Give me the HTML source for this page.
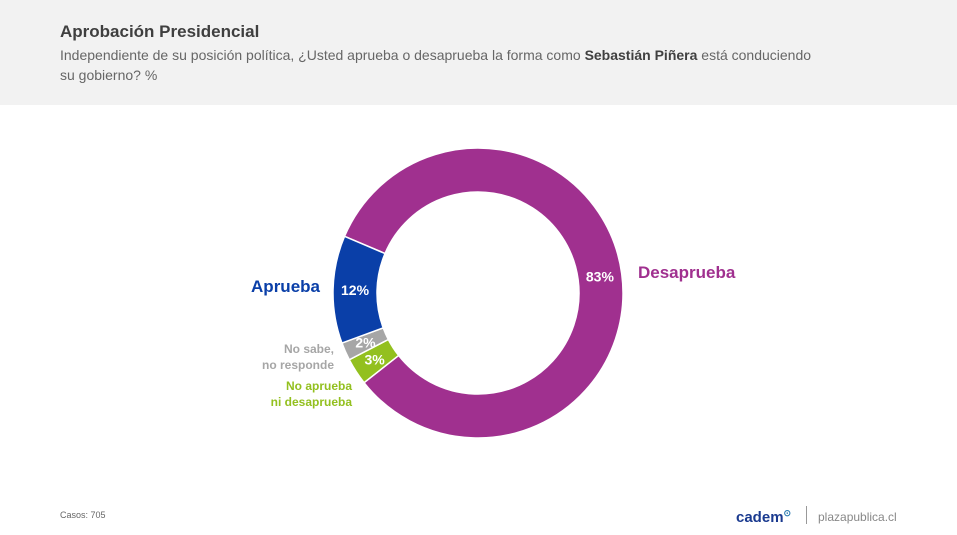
<!DOCTYPE html>
<html><head><meta charset="utf-8"><style>
body{margin:0;width:957px;height:535px;background:#fff;font-family:"Liberation Sans",sans-serif;overflow:hidden;position:relative}
.hdr{position:absolute;left:0;top:0;width:957px;height:105px;background:#f2f2f2}
.t{position:absolute;left:60px;top:22px;font-size:17px;font-weight:bold;color:#3f3f3f}
.s{position:absolute;left:60px;top:45px;width:768px;font-size:14px;line-height:20px;color:#666}
.s b{color:#404040}
</style></head><body>
<div class="hdr"></div>
<div class="t">Aprobación Presidencial</div>
<div class="s">Independiente de su posición política, ¿Usted aprueba o desaprueba la forma como <b>Sebastián Piñera</b> está conduciendo su gobierno? %</div>
<svg id="c" width="957" height="535" style="position:absolute;left:0;top:0"></svg>
<div style="position:absolute;left:60px;top:510px;font-size:9px;color:#666">Casos: 705</div>
<div style="position:absolute;left:736px;top:508px;font-size:15px;font-weight:bold;color:#1a3a8f">cadem<span style="font-size:9px;vertical-align:super;color:#2a7ab0">⊙</span></div>
<div style="position:absolute;left:806px;top:506px;width:1px;height:18px;background:#999"></div>
<div style="position:absolute;left:818px;top:510px;font-size:12px;color:#888">plazapublica.cl</div>
<script>
const categories=["Desaprueba","No aprueba ni desaprueba","No sabe, no responde","Aprueba"];
const values=[83,3,2,12];
const colors=["#a0308f","#93c01f","#a6a6a6","#0a3fa8"];
const valueLabels=["83%","3%","2%","12%"];
const svg=document.getElementById('c');
const NS="http://www.w3.org/2000/svg";
const cx=478,cy=293,R=145,r=101,start=-67;
const total=values.reduce((a,b)=>a+b,0);
function pt(a,rad){const t=a*Math.PI/180;return [cx+rad*Math.sin(t),cy-rad*Math.cos(t)];}
let a0=start;
values.forEach((v,i)=>{
 const a1=a0+v/total*360;const lg=(a1-a0)>180?1:0;
 const p1=pt(a0,R),p2=pt(a1,R),p3=pt(a1,r),p4=pt(a0,r);
 const p=document.createElementNS(NS,'path');
 p.setAttribute('d',`M${p1[0]},${p1[1]}A${R},${R} 0 ${lg} 1 ${p2[0]},${p2[1]}L${p3[0]},${p3[1]}A${r},${r} 0 ${lg} 0 ${p4[0]},${p4[1]}Z`);
 p.setAttribute('fill',colors[i]);p.setAttribute('stroke','#fff');p.setAttribute('stroke-width','1.5');
 
 
 svg.appendChild(p);
 const m=(a0+a1)/2,lp=pt(m,(R+r)/2);
 const t=document.createElementNS(NS,'text');
 t.setAttribute('x',lp[0]);t.setAttribute('y',lp[1]+5);t.setAttribute('text-anchor','middle');
 t.setAttribute('font-size','14');t.setAttribute('font-weight','bold');t.setAttribute('fill','#fff');
 t.setAttribute('font-family','Liberation Sans, sans-serif');
 t.textContent=valueLabels[i];
 
 
 svg.appendChild(t);
 a0=a1;
});
const cat=[
 {x:638,y:278,lines:["Desaprueba"],c:"#a0308f",fs:17,anchor:"start"},
 {x:320,y:292,lines:["Aprueba"],c:"#0a3fa8",fs:17,anchor:"end"},
 {x:334,y:353,lines:["No sabe,","no responde"],c:"#a6a6a6",fs:12,anchor:"end"},
 {x:352,y:390,lines:["No aprueba","ni desaprueba"],c:"#93c01f",fs:12,anchor:"end"}
];
cat.forEach((o,i)=>{
 o.lines.forEach((l,j)=>{
  const t=document.createElementNS(NS,'text');
  t.setAttribute('x',o.x);t.setAttribute('y',o.y+j*16);t.setAttribute('text-anchor',o.anchor);
  t.setAttribute('font-size',o.fs);t.setAttribute('font-weight','bold');t.setAttribute('fill',o.c);
  t.setAttribute('font-family','Liberation Sans, sans-serif');
  t.textContent=l;
  
  
  svg.appendChild(t);
 });
});
</script>
</body></html>
